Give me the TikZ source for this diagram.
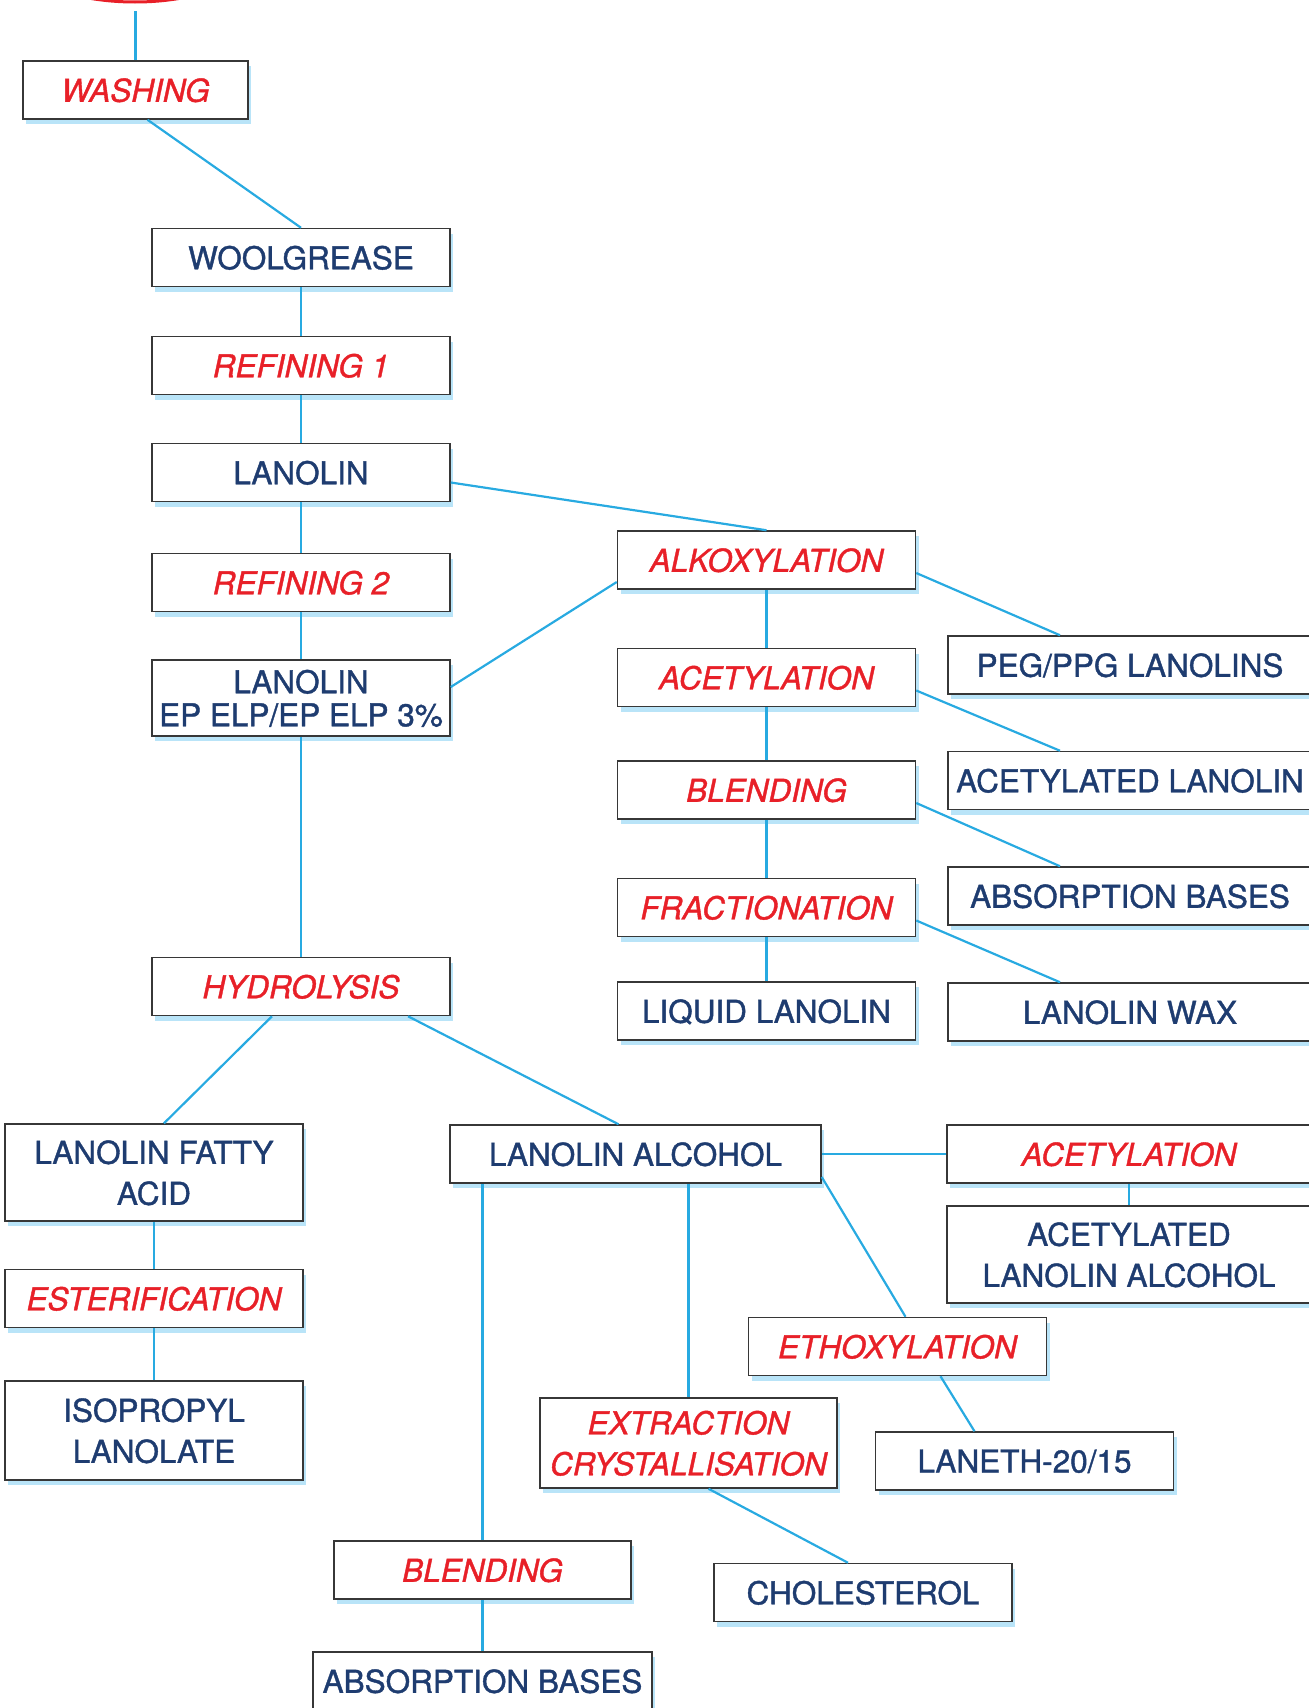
\documentclass[tikz,border=0pt]{standalone}
\usepackage{fontspec}
\setmainfont{TeX Gyre Heros}[
  BoldFont=TeX Gyre Heros, BoldFeatures={FakeBold=1.2},
  BoldItalicFont=TeX Gyre Heros Italic, BoldItalicFeatures={FakeBold=1.2}]
\usetikzlibrary{shadows}
\definecolor{lanored}{RGB}{232,32,40}
\definecolor{lanonavy}{RGB}{30,60,112}
\definecolor{lanoblue}{RGB}{40,170,225}
\definecolor{shadeblue}{RGB}{185,228,248}
\definecolor{boxgray}{RGB}{55,55,55}
\tikzset{
  boxbase/.style={draw=boxgray, line width=1.5pt, fill=white, inner sep=0pt,
    minimum width=298pt, minimum height=58pt, align=center, text depth=0pt,
    drop shadow={shadow xshift=3pt, shadow yshift=-5pt, fill=shadeblue, opacity=1}},
  product/.style={boxbase, text=lanonavy, font=\fontsize{31.5pt}{41pt}\selectfont\bfseries},
  process/.style={boxbase, text=lanored, font=\fontsize{31.5pt}{41pt}\selectfont\bfseries\itshape},
  link/.style={lanoblue, line width=2.2pt}
}
\begin{document}
\begin{tikzpicture}[x=1pt,y=-1pt]
\useasboundingbox (0,0) rectangle (1309,1708);
\draw[lanored, line width=3pt] (135,-58) ellipse [x radius=130pt, y radius=60pt];
\coordinate (washtop) at (135.5,11);

\node[process, minimum width=225pt] (washing) at (135.5,90) {WASHING};
\node[product] (woolgrease) at (301,257.5) {WOOLGREASE};
\node[process] (refine1) at (301,365.5) {REFINING 1};
\node[product] (lanolin) at (301,472.5) {LANOLIN};
\node[process] (refine2) at (301,582.5) {REFINING 2};
\node[product, minimum height=76pt, font=\fontsize{31.5pt}{33pt}\selectfont\bfseries] (lanolinep) at (301,698) {LANOLIN\\EP ELP/EP ELP 3\%};
\node[process] (hydrolysis) at (301,986.5) {HYDROLYSIS};

\node[process] (alkox) at (766.5,560) {ALKOXYLATION};
\node[process] (acetyl) at (766.5,677.5) {ACETYLATION};
\node[process] (blendA) at (766.5,790) {BLENDING};
\node[process] (fraction) at (766.5,907.5) {FRACTIONATION};
\node[product] (liquid) at (766.5,1011) {LIQUID LANOLIN};

\node[product, minimum width=364pt] (peg) at (1130,665) {PEG/PPG LANOLINS};
\node[product, minimum width=364pt] (acetlan) at (1130,780.5) {ACETYLATED LANOLIN};
\node[product, minimum width=364pt] (absbaseR) at (1130,896) {ABSORPTION BASES};
\node[product, minimum width=364pt] (wax) at (1130,1012) {LANOLIN WAX};

\node[product, minimum height=97pt] (fatty) at (154,1172.5) {LANOLIN FATTY\\ACID};
\node[process] (ester) at (154,1298.5) {ESTERIFICATION};
\node[product, minimum height=99pt] (isoprop) at (154,1430.5) {ISOPROPYL\\LANOLATE};

\node[product, minimum width=371pt] (alcohol) at (635.5,1154) {LANOLIN ALCOHOL};
\node[process, minimum width=364pt] (acetylR) at (1129,1154) {ACETYLATION};
\node[product, minimum width=364pt, minimum height=97pt] (acetlanalc) at (1129,1254.5) {ACETYLATED\\LANOLIN ALCOHOL};
\node[process] (ethox) at (897.5,1346.5) {ETHOXYLATION};
\node[process, minimum width=297pt, minimum height=90pt] (extract) at (688.5,1443) {EXTRACTION\\CRYSTALLISATION};
\node[product] (laneth) at (1024.5,1461) {LANETH-20/15};
\node[process, minimum width=297pt] (blendB) at (482.5,1570) {BLENDING};
\node[product] (cholest) at (863,1592.5) {CHOLESTEROL};
\node[product, minimum width=339pt] (absbaseB) at (482.5,1681) {ABSORPTION BASES};

\draw[link] (washtop) -- (washing.north);
\draw[link] ([xshift=12pt]washing.south) -- (woolgrease.north);
\foreach \a/\b in {woolgrease/refine1, refine1/lanolin, lanolin/refine2, refine2/lanolinep, lanolinep/hydrolysis,
  alkox/acetyl, acetyl/blendA, blendA/fraction, fraction/liquid, fatty/ester, ester/isoprop,
  acetylR/acetlanalc, blendB/absbaseB}
  \draw[link] (\a.south) -- (\b.north);
\draw[link] ([yshift=-10pt]lanolin.east) -- (alkox.north);
\draw[link] ([yshift=-22pt]alkox.west) -- ([yshift=11pt]lanolinep.east);
\foreach \a/\b in {alkox/peg, acetyl/acetlan, blendA/absbaseR, fraction/wax}
  \draw[link] ([yshift=-13pt]\a.east) -- ([xshift=-70pt]\b.north);
\draw[link] ([xshift=-29pt]hydrolysis.south) -- ([xshift=10pt]fatty.north);
\draw[link] ([xshift=107pt]hydrolysis.south) -- ([xshift=-17pt]alcohol.north);
\draw[link] (alcohol.south -| blendB.north) -- (blendB.north);
\draw[link] (alcohol.south -| extract.north) -- (extract.north);
\draw[link] (alcohol.east) -- (acetylR.west);
\draw[link] ([yshift=-23pt]alcohol.east) -- ([xshift=8pt]ethox.north);
\draw[link] ([xshift=43pt]ethox.south) -- ([xshift=-50pt]laneth.north);
\draw[link] ([xshift=20pt]extract.south) -- ([xshift=-15pt]cholest.north);
\end{tikzpicture}
\end{document}
